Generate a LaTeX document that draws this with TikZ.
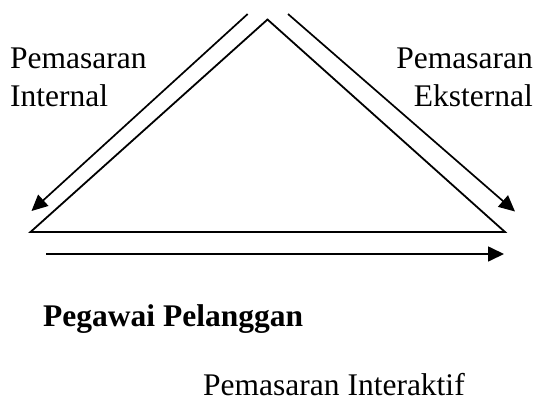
\documentclass[tikz,border=0pt]{standalone}
\usepackage{fontspec}
\setmainfont{Liberation Serif}
\usetikzlibrary{arrows.meta}
\begin{document}
\begin{tikzpicture}[x=1pt,y=-1pt,
  edge/.style={line width=1.8pt,line join=miter},
  arr/.style={line width=1.7pt,-{Triangle[length=16pt,width=15pt]}},
  lbl/.style={inner sep=0pt,font=\fontsize{31.5}{36}\selectfont}]
\useasboundingbox (0,0) rectangle (544,402);
% triangle
\coordinate (top) at (267.5,19.5);
\coordinate (bl) at (30.5,232);
\coordinate (br) at (505,232);
\draw[edge] (bl) -- (top) -- (br) -- cycle;
% arrows
\coordinate (ls) at (247.7,14);
\coordinate (le) at (31.5,211);
\coordinate (rs) at (288,14);
\coordinate (re) at (515,211.5);
\coordinate (bs) at (46,254);
\coordinate (be) at (504,254);
\draw[arr] (ls) -- (le);
\draw[arr] (rs) -- (re);
\draw[arr] (bs) -- (be);
% labels
\node[lbl,anchor=base west] (l1) at (10,68) {Pemasaran};
\node[lbl,anchor=base west] (l2) at (10,106) {Internal};
\node[lbl,anchor=base east] (r1) at (533,68) {Pemasaran};
\node[lbl,anchor=base east] (r2) at (533,106) {Eksternal};
\node[lbl,anchor=base west,font=\fontsize{31.5}{36}\selectfont\bfseries] (pp) at (43,326) {Pegawai Pelanggan};
\node[lbl,anchor=base west] (pi) at (203,395) {Pemasaran Interaktif};
\end{tikzpicture}
\end{document}
